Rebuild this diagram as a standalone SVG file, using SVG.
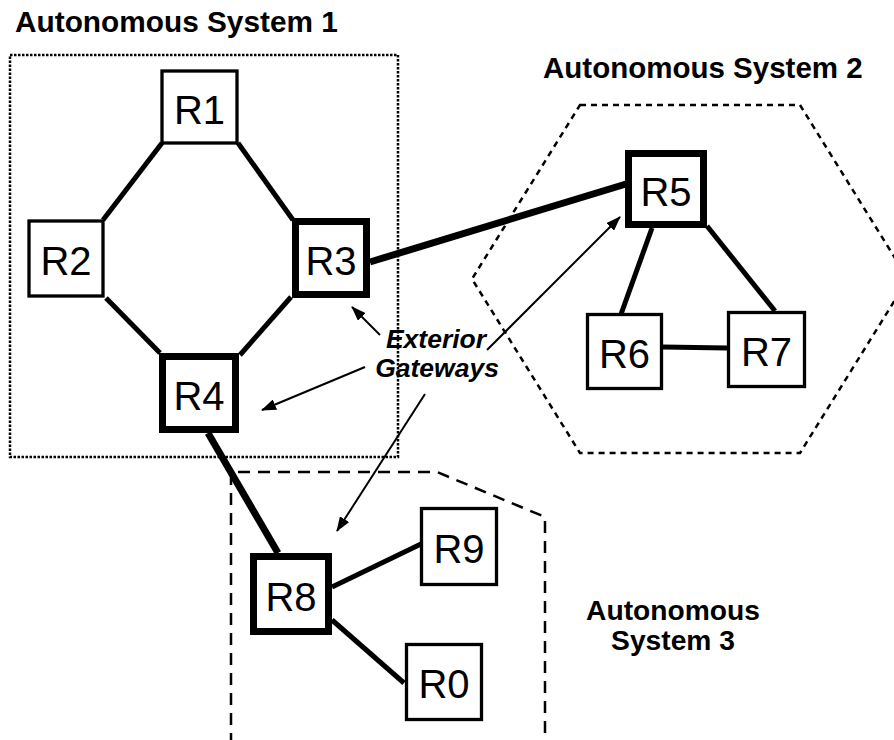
<svg xmlns="http://www.w3.org/2000/svg" width="894" height="740" viewBox="0 0 894 740">
<style>
.box{fill:#fff;stroke:#000;stroke-width:3.3}
.gw{fill:#fff;stroke:#000;stroke-width:7}
.rl{font-family:"Liberation Sans",Arial,sans-serif;font-size:40px;text-anchor:middle;fill:#000}
.as{font-family:"Liberation Sans",Arial,sans-serif;font-weight:bold;fill:#000}
.lnk{stroke:#000;stroke-width:5;fill:none}
.lnk2{stroke:#000;stroke-width:7;fill:none}
.arr{stroke:#000;stroke-width:2;fill:none;marker-end:url(#ah)}
</style>
<defs>
<marker id="ah" markerUnits="userSpaceOnUse" markerWidth="15" markerHeight="11" refX="14" refY="5.5" orient="auto">
<path d="M0,0 L15,5.5 L0,11 z" fill="#000"/>
</marker>
</defs>
<rect width="894" height="740" fill="#fff"/>
<g id="regions" fill="none" stroke="#000">
<rect id="as1" x="10" y="55" width="388" height="402" stroke-width="2.5" stroke-dasharray="2.5,1.5"/>
<polygon id="as2" points="580,105 800,105 908,279 800,453 580,453 472,279" stroke-width="2.5" stroke-dasharray="6,5"/>
<polyline id="as3" points="231,745 231,472 437,472 545,517 545,745" stroke-width="2.5" stroke-dasharray="12,8"/>
</g>
<g id="connectors">
<line class="lnk" x1="162" y1="143" x2="103" y2="220"/>
<line class="lnk" x1="238" y1="143" x2="293" y2="220"/>
<line class="lnk" x1="106" y1="298" x2="160" y2="353"/>
<line class="lnk" x1="291" y1="297" x2="240" y2="355"/>
<line class="lnk2" x1="370" y1="262" x2="626" y2="184"/>
<line class="lnk" x1="652" y1="228" x2="620" y2="317"/>
<line class="lnk" x1="707" y1="226" x2="775" y2="311"/>
<line class="lnk" x1="663" y1="347" x2="727" y2="348"/>
<line class="lnk2" x1="208" y1="433" x2="278" y2="553"/>
<line class="lnk" x1="332" y1="587" x2="421" y2="544"/>
<line class="lnk" x1="332" y1="620" x2="404" y2="683"/>
</g>
<g id="R1"><rect class="box" x="162" y="71" width="75" height="72"/><text class="rl" x="199.5" y="124">R1</text></g>
<g id="R2"><rect class="box" x="29" y="221" width="74" height="75"/><text class="rl" x="66" y="275">R2</text></g>
<g id="R3"><rect class="gw" x="295.5" y="221.5" width="71" height="73"/><text class="rl" x="331" y="275">R3</text></g>
<g id="R4"><rect class="gw" x="162.5" y="356.5" width="73" height="73"/><text class="rl" x="199" y="410">R4</text></g>
<g id="R5"><rect class="gw" x="628.5" y="153.5" width="75" height="71"/><text class="rl" x="666" y="206">R5</text></g>
<g id="R6"><rect class="box" x="587.5" y="314.5" width="74" height="74"/><text class="rl" x="624.5" y="368">R6</text></g>
<g id="R7"><rect class="box" x="728.5" y="312.5" width="76" height="74"/><text class="rl" x="766.5" y="366">R7</text></g>
<g id="R8"><rect class="gw" x="253.5" y="556.5" width="75" height="75"/><text class="rl" x="291" y="611">R8</text></g>
<g id="R9"><rect class="box" x="421.5" y="508.5" width="75" height="76"/><text class="rl" x="459" y="563">R9</text></g>
<g id="R0"><rect class="box" x="406.5" y="644.5" width="75" height="75"/><text class="rl" x="444" y="698">R0</text></g>
<g id="gateway-arrows">
<line class="arr" x1="380" y1="335" x2="352" y2="307"/>
<line class="arr" x1="365" y1="367" x2="262" y2="410"/>
<line class="arr" x1="487" y1="350" x2="620" y2="217"/>
<line class="arr" x1="425" y1="394" x2="337" y2="531"/>
</g>
<g id="labels">
<text class="as" x="15" y="32" font-size="29.8">Autonomous System 1</text>
<text class="as" x="543" y="78" font-size="29.5">Autonomous System 2</text>
<text class="as" x="673" y="620" font-size="28.2" text-anchor="middle">Autonomous</text>
<text class="as" x="673" y="650" font-size="28.2" text-anchor="middle">System 3</text>
<text class="as" x="436" y="348" font-size="26.5" font-style="italic" text-anchor="middle">Exterior</text>
<text class="as" x="437" y="377" font-size="26.5" font-style="italic" text-anchor="middle">Gateways</text>
</g>
</svg>
